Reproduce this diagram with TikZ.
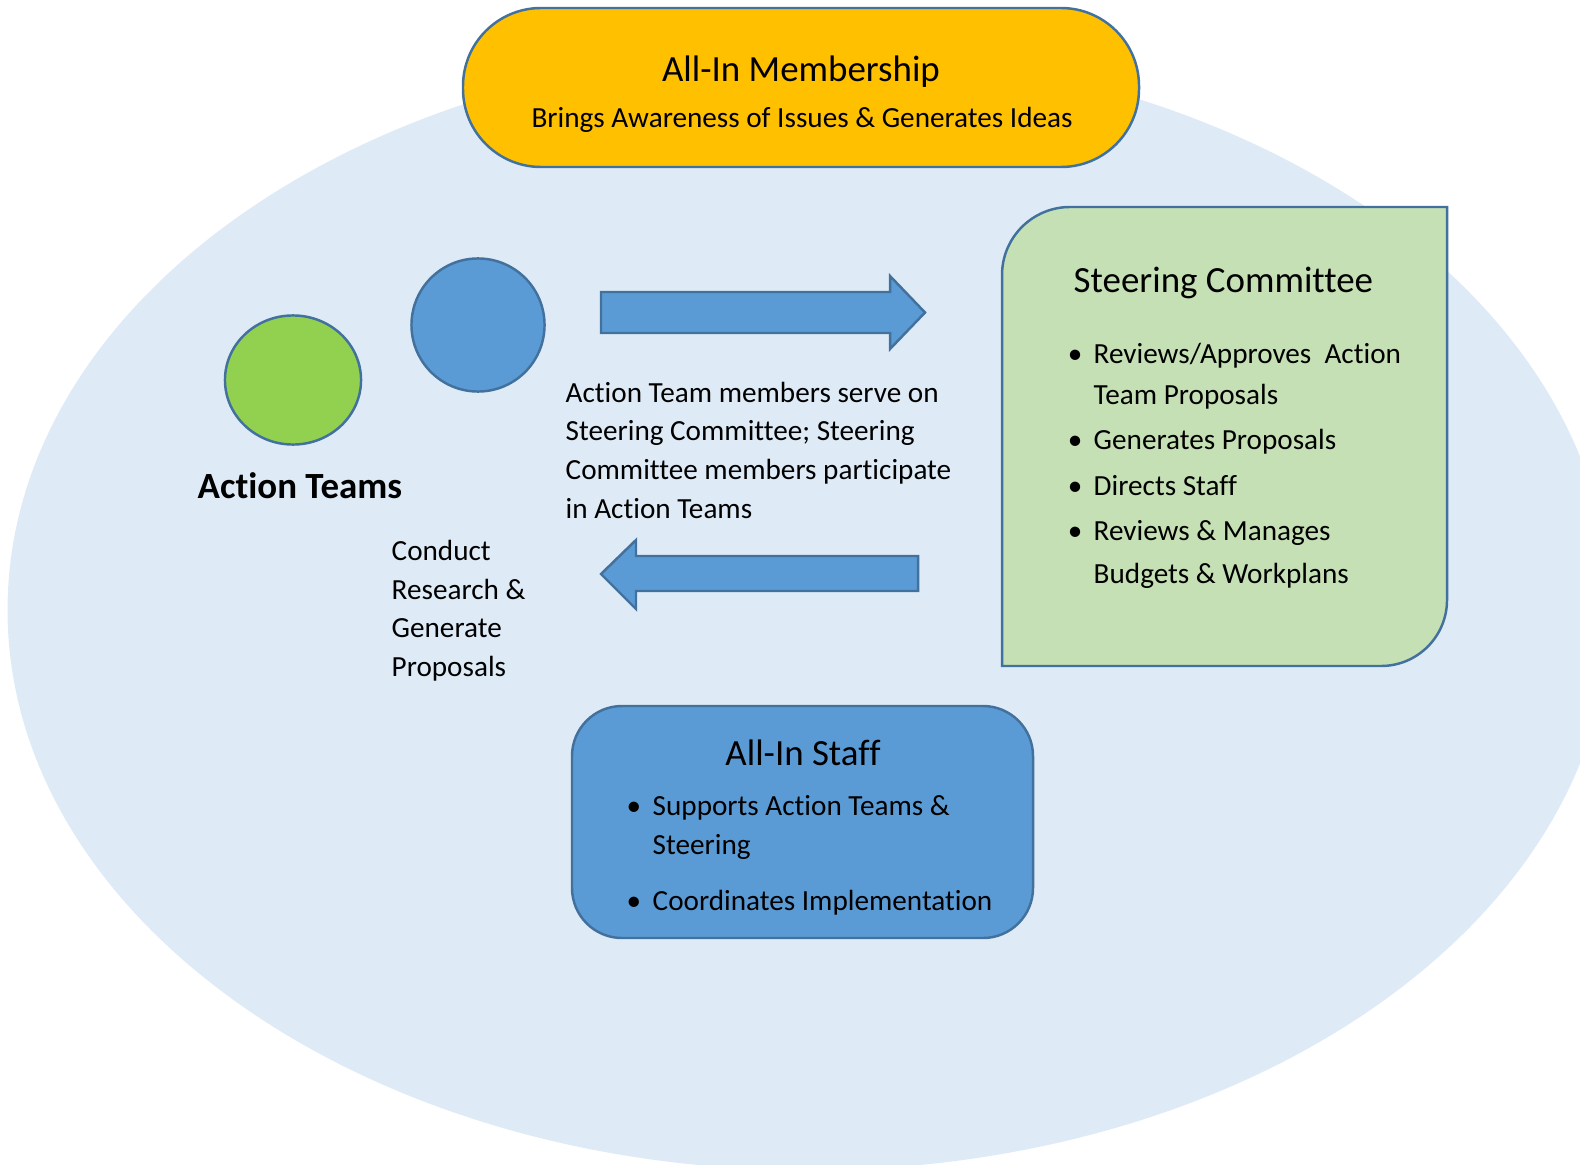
\documentclass[tikz,border=0pt]{standalone}
\usepackage{fontspec}
\setmainfont{Carlito}[RawFeature={-liga;-clig;-calt}]
\usetikzlibrary{positioning}
\definecolor{PlanBlue}{RGB}{222,235,247}
\definecolor{EdgeBlue}{RGB}{65,113,156}
\definecolor{MemberGold}{RGB}{255,192,0}
\definecolor{SteerGreen}{RGB}{197,224,180}
\definecolor{StaffBlue}{RGB}{91,155,213}
\definecolor{TeamGreen}{RGB}{146,208,80}

\begin{document}
\begin{tikzpicture}[x=0.01cm, y=-0.01cm,
  shapeedge/.style={draw=EdgeBlue, line width=0.7pt},
  headtxt/.style={font=\fontsize{10.5}{12.6}\selectfont, inner sep=0pt, anchor=base},
  bodytxt/.style={font=\fontsize{8.3}{10}\selectfont, inner sep=0pt, anchor=base west},
  dottxt/.style={font=\fontsize{8.3}{10}\selectfont, inner sep=0pt, anchor=base}]

\useasboundingbox (0,0) rectangle (1580,1164);

% Background ellipse, cut at the page edge
\begin{scope}
\clip (0,0) rectangle (1580,1164);
\fill[PlanBlue] (809,610) ellipse [x radius=8.01cm, y radius=5.60cm];
\end{scope}

% --- All-In Membership ---
\draw[shapeedge, fill=MemberGold, rounded corners=0.78cm] (463,8) rectangle (1139,167);
\node[headtxt] (memtitle) at (801,82) {All-In Membership};
\node[headtxt, font=\fontsize{8.3}{10}\selectfont] (memsub) at (802,128) {Brings Awareness of Issues \& Generates Ideas};

% --- Action Teams ---
\draw[shapeedge, fill=TeamGreen] (293,380) ellipse [x radius=0.68cm, y radius=0.645cm];
\draw[shapeedge, fill=StaffBlue] (478,325) ellipse [x radius=0.665cm, y radius=0.665cm];
\node[headtxt, anchor=base west, font=\fontsize{10.5}{12.6}\selectfont\bfseries] (teams) at (197,498) {Action Teams};

\node[bodytxt] (conduct1) at (391,560) {Conduct};
\node[bodytxt] (conduct2) at (391,599) {Research \&};
\node[bodytxt] (conduct3) at (391,637) {Generate};
\node[bodytxt] (conduct4) at (391,676) {Proposals};

% --- Arrows between teams and committee ---
\draw[shapeedge, fill=StaffBlue] (601,292) -- (890,292) -- (890,276) -- (925,312.5) -- (890,349) -- (890,333) -- (601,333) -- cycle;
\draw[shapeedge, fill=StaffBlue] (918,556) -- (636,556) -- (636,540) -- (601,574) -- (636,609) -- (636,591) -- (918,591) -- cycle;

\node[bodytxt] (serve1) at (565,402) {Action Team members serve on};
\node[bodytxt] (serve2) at (565,440) {Steering Committee; Steering};
\node[bodytxt] (serve3) at (565,479) {Committee members participate};
\node[bodytxt] (serve4) at (565,518) {in Action Teams};

% --- Steering Committee ---
\draw[shapeedge, fill=SteerGreen] (1002,666) [rounded corners=0.68cm] -- (1002,207) [sharp corners] -- (1447,207) [rounded corners=0.66cm] -- (1447,666) [sharp corners] -- cycle;
\node[headtxt, anchor=base west] (steertitle) at (1073,292) {Steering Committee};

\node[dottxt] (sdot1) at (1075,363) {\textbullet};
\node[bodytxt] (steer1) at (1093,363) {Reviews/Approves~ Action};
\node[bodytxt] (steer1b) at (1093,404) {Team Proposals};
\node[dottxt] (sdot2) at (1075,449) {\textbullet};
\node[bodytxt] (steer2) at (1093,449) {Generates Proposals};
\node[dottxt] (sdot3) at (1075,495) {\textbullet};
\node[bodytxt] (steer3) at (1093,495) {Directs Staff};
\node[dottxt] (sdot4) at (1075,540) {\textbullet};
\node[bodytxt] (steer4) at (1093,540) {Reviews \& Manages};
\node[bodytxt] (steer4b) at (1093,583) {Budgets \& Workplans};

% --- All-In Staff ---
\draw[shapeedge, fill=StaffBlue, rounded corners=0.5cm] (572,706) rectangle (1033,938);
\node[headtxt] (stafftitle) at (803,765) {All-In Staff};

\node[dottxt] (fdot1) at (634,815) {\textbullet};
\node[bodytxt] (staff1) at (652,815) {Supports Action Teams \&};
\node[bodytxt] (staff1b) at (652,854) {Steering};
\node[dottxt] (fdot2) at (634,910) {\textbullet};
\node[bodytxt] (staff2) at (652,910) {Coordinates Implementation};

\end{tikzpicture}
\end{document}
